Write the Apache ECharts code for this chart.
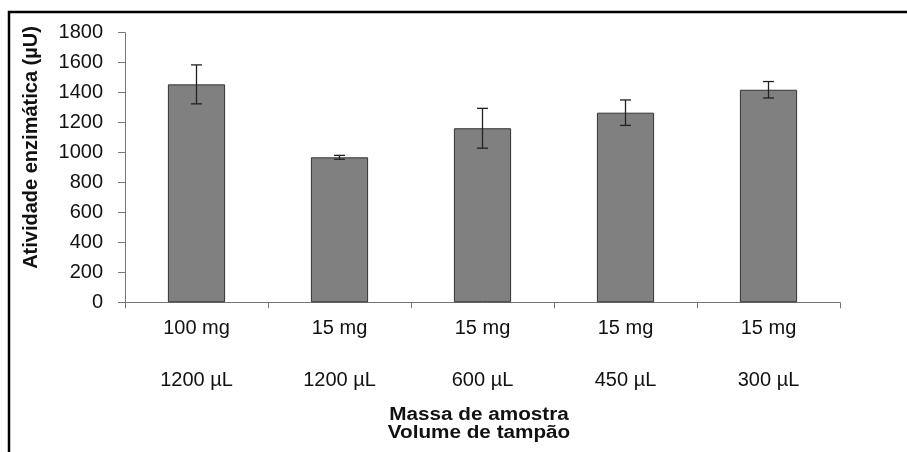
<!DOCTYPE html>
<html><head><meta charset="utf-8">
<script src="https://cdn.jsdelivr.net/npm/echarts@6/dist/echarts.min.js"></script>
<style>html,body{margin:0;padding:0;background:#fff}#c{width:907px;height:452px}</style>
</head><body><div id="c"></div>
<script>
const massLabels = ['100 mg', '15 mg', '15 mg', '15 mg', '15 mg'];
const volumeLabels = ['1200 µL', '1200 µL', '600 µL', '450 µL', '300 µL'];
const activity = [1455, 968, 1162, 1266, 1419];
const errors = [130, 13, 133, 85, 55];
const yTicks = [0, 200, 400, 600, 800, 1000, 1200, 1400, 1600, 1800];

const categories = massLabels.map((m, i) => m + '\n' + volumeLabels[i]);
const chart = echarts.init(document.getElementById('c'));
const font = '"Liberation Sans", Arial, sans-serif';
chart.setOption({
  animation: false,
  grid: {left: 125, right: 67, top: 32.7, bottom: 149.7},
  xAxis: {
    type: 'category', data: categories,
    axisLine: {lineStyle: {color: '#777', width: 1}},
    axisTick: {show: true, length: 6, lineStyle: {color: '#777'}},
    axisLabel: {color: '#111', fontSize: 20, fontFamily: font, lineHeight: 52, margin: 0, interval: 0}
  },
  yAxis: {
    type: 'value', min: yTicks[0], max: yTicks[yTicks.length - 1], interval: 200,
    axisLine: {show: true, lineStyle: {color: '#777', width: 1}},
    axisTick: {show: true, length: 7, lineStyle: {color: '#777'}},
    splitLine: {show: false},
    axisLabel: {color: '#111', fontSize: 20, fontFamily: font, margin: 22, formatter: v => String(v)}
  },
  series: [{
    type: 'bar', data: activity, barWidth: '40%',
    itemStyle: {color: '#808080', borderColor: '#333', borderWidth: 1}
  }, {
    type: 'custom',
    data: activity.map((v, i) => [i, v - errors[i], v + errors[i]]),
    renderItem: function (params, api) {
      const lo = api.coord([api.value(0), api.value(1)]);
      const hi = api.coord([api.value(0), api.value(2)]);
      const w = 5.5;
      const st = {stroke: '#222', lineWidth: 1.3};
      return {type: 'group', children: [
        {type: 'line', shape: {x1: hi[0], y1: hi[1], x2: lo[0], y2: lo[1]}, style: st},
        {type: 'line', shape: {x1: hi[0] - w, y1: hi[1], x2: hi[0] + w, y2: hi[1]}, style: st},
        {type: 'line', shape: {x1: lo[0] - w, y1: lo[1], x2: lo[0] + w, y2: lo[1]}, style: st}
      ]};
    },
    z: 5
  }],
  graphic: [
    {type: 'rect', shape: {x: 9, y: 12, width: 1000, height: 1000}, style: {fill: 'none', stroke: '#000', lineWidth: 2.5}, silent: true},
    {type: 'text', x: 31, y: 147.5, rotation: Math.PI / 2,
      style: {text: 'Atividade enzimática (µU)', font: 'bold 20px ' + font, fill: '#111', align: 'center', verticalAlign: 'middle'}},
    {type: 'text', x: 479, y: 415, scaleX: 1.15,
      style: {text: 'Massa de amostra', font: 'bold 18px ' + font, fill: '#111', align: 'center', verticalAlign: 'middle'}},
    {type: 'text', x: 479, y: 433, scaleX: 1.15,
      style: {text: 'Volume de tampão', font: 'bold 18px ' + font, fill: '#111', align: 'center', verticalAlign: 'middle'}}
  ]
});
</script></body></html>
